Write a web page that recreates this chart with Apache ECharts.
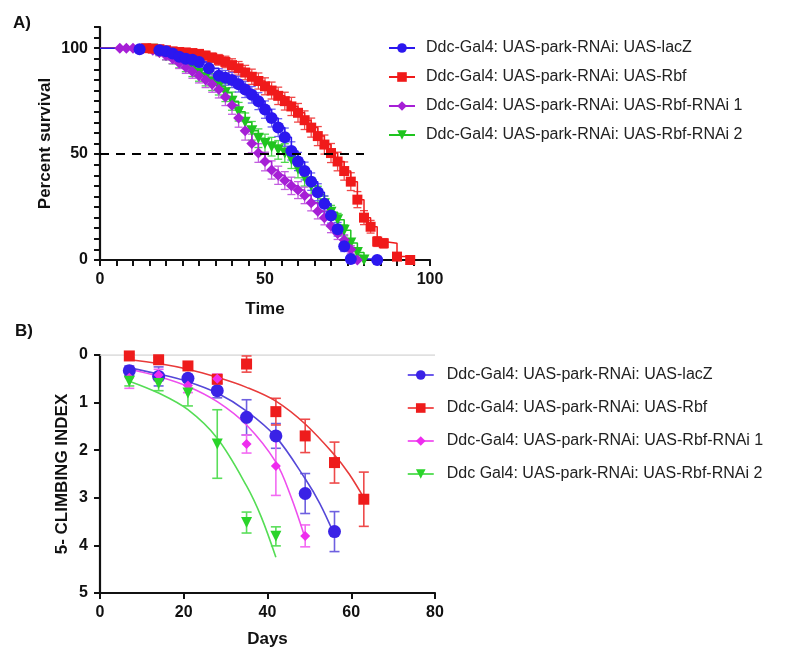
<!DOCTYPE html>
<html>
<head>
<meta charset="utf-8">
<script src="https://cdn.jsdelivr.net/npm/echarts@6/dist/echarts.min.js"></script>
<style>
html,body{margin:0;padding:0;background:#fff;}
#chart{width:800px;height:655px;}
</style>
</head>
<body>
<div id="chart"></div>
<script>
// ---------- Panel A: survival ----------
const seriesNamesA = [
  'Ddc-Gal4: UAS-park-RNAi: UAS-lacZ',
  'Ddc-Gal4: UAS-park-RNAi: UAS-Rbf',
  'Ddc-Gal4: UAS-park-RNAi: UAS-Rbf-RNAi 1',
  'Ddc-Gal4: UAS-park-RNAi: UAS-Rbf-RNAi 2'
];
const survTimeBlue = [0, 12, 18, 20, 22, 24, 26, 28, 30, 33, 36, 38, 40, 42, 44, 46, 48, 50, 52, 54, 56, 58, 60, 62, 64, 66, 68, 70, 72, 74, 76, 84];
const survBlue     = [100, 99.5, 99, 98.5, 97.5, 96, 95, 94.5, 93.5, 90.5, 87, 86, 85, 83, 80.5, 78, 75, 71, 67, 62.5, 58, 51.5, 46.5, 42, 37, 32, 26.5, 21, 14.5, 6.5, 0.5, 0];
const errBlue      = [0, 0.5, 1, 1.2, 1.5, 2, 2.2, 2.4, 2.6, 3, 3.3, 3.5, 3.6, 3.7, 3.8, 3.9, 4, 4.1, 4.2, 4.2, 4.3, 4.3, 4.3, 4.2, 4.1, 4, 3.8, 3.6, 3.2, 2.5, 0, 0];

const survTimeRed = [0, 14, 16, 18, 20, 22, 24, 26, 28, 30, 32, 34, 36, 38, 40, 42, 44, 46, 48, 50, 52, 54, 56, 58, 60, 62, 64, 66, 68, 70, 72, 74, 76, 78, 80, 82, 84, 86, 90, 94];
const survRed     = [100, 100, 99.8, 99.5, 99, 98.5, 98.2, 98, 97.7, 97.3, 96.5, 95.5, 94.5, 93.5, 92, 90.5, 88.5, 86.5, 84.5, 82, 80, 77.5, 75, 72.5, 69.5, 66, 62.5, 58.5, 54.5, 50.5, 46.5, 42, 37, 28.5, 20, 15.7, 8.7, 7.9, 1.6, 0];
const errRed      = [0, 0, 0.5, 0.8, 1, 1.2, 1.4, 1.5, 1.6, 1.8, 2, 2.2, 2.5, 2.7, 3, 3.2, 3.4, 3.6, 3.8, 4, 4, 4.1, 4.2, 4.3, 4.4, 4.4, 4.5, 4.5, 4.5, 4.5, 4.4, 4.3, 4.2, 3.8, 3.3, 3, 2.3, 2.2, 1.2, 0];

const survTimePurple = [0, 6, 8, 10, 16, 18, 20, 22, 24, 26, 28, 30, 32, 34, 36, 38, 40, 42, 44, 46, 48, 50, 52, 54, 56, 58, 60, 62, 64, 66, 68, 70, 72, 74, 76, 78];
const survPurple     = [100, 100, 100, 100, 99, 98, 96.5, 95, 93, 91, 89, 87, 85, 83, 80.5, 77, 73, 67, 61, 55, 50.5, 46.5, 42.5, 40, 37.5, 35, 33, 30.5, 27, 23, 20, 16, 12.5, 9.5, 5, 0];
const errPurple      = [0, 0, 0, 0, 1, 1.5, 2, 2.3, 2.6, 2.9, 3.2, 3.4, 3.6, 3.8, 4, 4.1, 4.2, 4.3, 4.4, 4.4, 4.4, 4.4, 4.3, 4.3, 4.2, 4.1, 4, 3.9, 3.8, 3.6, 3.4, 3.1, 2.8, 2.4, 1.8, 0];

const survTimeGreen = [0, 16, 18, 20, 22, 24, 26, 28, 30, 32, 34, 36, 38, 40, 42, 44, 46, 48, 50, 52, 54, 56, 58, 60, 62, 64, 66, 68, 70, 72, 74, 76, 78, 80];
const survGreen     = [100, 99.5, 98, 96.5, 95, 93.5, 92, 90, 88, 86, 84, 82, 79, 75, 70, 65, 61, 57.5, 55, 53.5, 52, 50.5, 47.5, 43, 39, 35, 31, 26.5, 22.5, 19, 14, 8, 3.5, 0];
const errGreen      = [0, 0.8, 1.5, 2, 2.4, 2.8, 3.1, 3.4, 3.6, 3.8, 4, 4.1, 4.2, 4.3, 4.4, 4.4, 4.4, 4.4, 4.4, 4.4, 4.4, 4.4, 4.3, 4.2, 4.1, 4, 3.8, 3.6, 3.3, 3, 2.6, 2, 1.2, 0];

const medianLineX = [0, 80];
const medianLineY = [50, 50];

const xTickLabelsA = [0, 50, 100];
const yTickLabelsA = [0, 50, 100];

// ---------- Panel B: climbing ----------
const seriesNamesB = [
  'Ddc-Gal4: UAS-park-RNAi: UAS-lacZ\u200B',
  'Ddc-Gal4: UAS-park-RNAi: UAS-Rbf\u200B',
  'Ddc-Gal4: UAS-park-RNAi: UAS-Rbf-RNAi 1\u200B',
  'Ddc Gal4: UAS-park-RNAi: UAS-Rbf-RNAi 2'
];
const daysBlue = [7, 14, 21, 28, 35, 42, 49, 56];
const climbBlue = [0.33, 0.45, 0.49, 0.75, 1.31, 1.7, 2.91, 3.71];
const climbErrBlue = [0.1, 0.2, 0.08, 0.15, 0.37, 0.26, 0.42, 0.42];
const daysRed = [7, 14, 21, 28, 35, 42, 49, 56, 63];
const climbRed = [0.02, 0.1, 0.23, 0.51, 0.19, 1.19, 1.7, 2.26, 3.03];
const climbErrRed = [0.04, 0.05, 0.06, 0.07, 0.17, 0.28, 0.35, 0.43, 0.57];
const daysMagenta = [7, 14, 21, 28, 35, 42, 49];
const climbMagenta = [0.48, 0.42, 0.64, 0.5, 1.87, 2.33, 3.8];
const climbErrMagenta = [0.22, 0.12, 0.15, 0.1, 0.19, 0.62, 0.23];
const daysGreen = [7, 14, 21, 28, 35, 42];
const climbGreen = [0.55, 0.6, 0.8, 1.87, 3.52, 3.81];
const climbErrGreen = [0.1, 0.15, 0.27, 0.72, 0.22, 0.2];

// fitted curves
const fitDaysBlue = [7, 14, 21, 28, 35, 42, 49, 52.5, 56];
const fitBlue     = [0.27, 0.4, 0.56, 0.8, 1.18, 1.72, 2.6, 3.12, 3.78];
const fitDaysRed  = [7, 14, 21, 28, 35, 42, 49, 56, 59.5, 63];
const fitRed      = [0.1, 0.18, 0.3, 0.47, 0.68, 0.97, 1.45, 2.1, 2.5, 3.0];
const fitDaysMagenta = [7, 14, 21, 28, 35, 42, 45.5, 49];
const fitMagenta     = [0.3, 0.45, 0.66, 0.98, 1.47, 2.25, 2.95, 3.85];
const fitDaysGreen = [7, 14, 21, 28, 35, 38.5, 42];
const fitGreen     = [0.55, 0.8, 1.15, 1.75, 2.75, 3.4, 4.25];

const xTickLabelsB = [0, 20, 40, 60, 80];
const yTickLabelsB = [0, 1, 2, 3, 4, 5];

// ---------- build ----------
const FONT = "'Liberation Sans', Arial, sans-serif";
const zip = (xs, ys) => xs.map((x, i) => [x, ys[i]]);
const zip3 = (xs, ys, es) => xs.map((x, i) => [x, ys[i], es[i]]);
const TRI_DOWN = 'path://M0,0 L10,0 L5,9 Z';

function errSeries(data, color, xi, yi, capHalf, width) {
  return {
    type: 'custom', xAxisIndex: xi, yAxisIndex: yi, silent: true, z: 2,
    data: data, encode: {x: 0, y: 1},
    renderItem: function (params, api) {
      const x = api.value(0), y = api.value(1), e = api.value(2);
      if (!e) return null;
      const a = api.coord([x, y + e]);
      const b = api.coord([x, y - e]);
      const st = {stroke: color, lineWidth: width, fill: null};
      return {type: 'group', children: [
        {type: 'line', shape: {x1: a[0], y1: a[1], x2: b[0], y2: b[1]}, style: st},
        {type: 'line', shape: {x1: a[0] - capHalf, y1: a[1], x2: a[0] + capHalf, y2: a[1]}, style: st},
        {type: 'line', shape: {x1: b[0] - capHalf, y1: b[1], x2: b[0] + capHalf, y2: b[1]}, style: st}
      ]};
    }
  };
}

function survSeries(name, xs, ys, color, symbol, size) {
  const data = zip(xs, ys).map((p, i) => i === 0 ? {value: p, symbol: 'none'} : p);
  return {
    name: name, type: 'line', xAxisIndex: 0, yAxisIndex: 0, step: 'end',
    data: data, symbol: symbol, symbolSize: size, z: 3,
    itemStyle: {color: color}, lineStyle: {color: color, width: 1.5}
  };
}

function fitSeries(xs, ys, color) {
  return {type: 'line', xAxisIndex: 1, yAxisIndex: 1, data: zip(xs, ys), smooth: 0.35,
    symbol: 'none', silent: true, z: 3, lineStyle: {color: color, width: 1.6}};
}

function pointSeries(name, xs, ys, color, symbol, size) {
  return {name: name, type: 'line', xAxisIndex: 1, yAxisIndex: 1, data: zip(xs, ys),
    symbol: symbol, symbolSize: size, z: 5, itemStyle: {color: color},
    lineStyle: {width: 0, color: color}};
}

const cA = {blue: '#2b17ef', red: '#f01a1a', purple: '#a61fd6', green: '#1fc41f'};
const eA = {blue: '#6b5ff0', red: '#f04848', purple: '#c35ee0', green: '#4fd84f'};
const cB = {blue: '#3a22e6', red: '#ee1c1c', magenta: '#ee2cee', green: '#2ad42a'};
const eB = {blue: '#6e60e0', red: '#ee4a4a', magenta: '#f36af3', green: '#5ade5a'};
const fB = {blue: '#5548d8', red: '#e83a3a', magenta: '#ee4eee', green: '#55dd55'};

const axisLineStyle = {color: '#111', width: 2.2};
const labelStyle = {fontSize: 16, fontWeight: 'bold', fontFamily: FONT, color: '#111'};
const nameStyle = {fontSize: 17, fontWeight: 'bold', fontFamily: FONT, color: '#111'};

const option = {
  animation: false,
  backgroundColor: '#fff',
  title: [
    {text: 'A)', left: 8, top: 10, textStyle: {fontSize: 17, fontWeight: 'bold', fontFamily: FONT, color: '#111'}},
    {text: 'B)', left: 10, top: 318, textStyle: {fontSize: 17, fontWeight: 'bold', fontFamily: FONT, color: '#111'}}
  ],
  grid: [
    {left: 100, top: 27, width: 330, height: 233, containLabel: false},
    {left: 100, top: 355, width: 335, height: 238, containLabel: false}
  ],
  legend: [
    {
      data: seriesNamesA, orient: 'vertical', left: 383, top: 35,
      itemWidth: 26, itemHeight: 12, itemGap: 13,
      textStyle: {fontSize: 16, fontFamily: FONT, color: '#222', padding: [0, 0, 0, 6]},
      selectedMode: false
    },
    {
      data: seriesNamesB, orient: 'vertical', left: 402, top: 362,
      itemWidth: 26, itemHeight: 12, itemGap: 17,
      lineStyle: {width: 1.5},
      textStyle: {fontSize: 16, fontFamily: FONT, color: '#222', padding: [0, 0, 0, 8]},
      selectedMode: false
    }
  ],
  xAxis: [
    {
      gridIndex: 0, type: 'value', min: 0, max: 100, interval: 5,
      axisLine: {onZero: false, lineStyle: axisLineStyle},
      axisTick: {show: true, length: 6, lineStyle: {color: '#111', width: 2}},
      splitLine: {show: false},
      axisLabel: Object.assign({margin: 12, formatter: v => xTickLabelsA.includes(v) ? String(v) : ''}, labelStyle),
      name: 'Time', nameLocation: 'middle', nameGap: 41, nameTextStyle: nameStyle
    },
    {
      gridIndex: 1, type: 'value', min: 0, max: 80, interval: 20,
      axisLine: {onZero: false, lineStyle: axisLineStyle},
      axisTick: {show: true, length: 6, lineStyle: {color: '#111', width: 2}},
      splitLine: {show: false},
      axisLabel: Object.assign({margin: 12, formatter: v => xTickLabelsB.includes(v) ? String(v) : ''}, labelStyle),
      name: 'Days', nameLocation: 'middle', nameGap: 38, nameTextStyle: nameStyle
    }
  ],
  yAxis: [
    {
      gridIndex: 0, type: 'value', min: 0, max: 110, interval: 5,
      axisLine: {show: true, onZero: false, lineStyle: axisLineStyle},
      axisTick: {show: true, length: 6, lineStyle: {color: '#111', width: 2}},
      splitLine: {show: false},
      axisLabel: Object.assign({margin: 12, formatter: v => yTickLabelsA.includes(v) ? String(v) : ''}, labelStyle),
      name: 'Percent survival', nameLocation: 'middle', nameGap: 46, nameTextStyle: nameStyle
    },
    {
      gridIndex: 1, type: 'value', min: 0, max: 5, interval: 1, inverse: true,
      axisLine: {show: true, onZero: false, lineStyle: axisLineStyle},
      axisTick: {show: true, length: 6, lineStyle: {color: '#111', width: 2}},
      splitLine: {show: false},
      axisLabel: Object.assign({margin: 12, formatter: v => yTickLabelsB.includes(v) ? String(v) : ''}, labelStyle),
      name: '5- CLIMBING INDEX', nameLocation: 'middle', nameGap: 29, nameTextStyle: nameStyle
    }
  ],
  series: [
    // Panel A error bars
    errSeries(zip3(survTimeGreen, survGreen, errGreen), eA.green, 0, 0, 4, 1.3),
    errSeries(zip3(survTimePurple, survPurple, errPurple), eA.purple, 0, 0, 4, 1.3),
    errSeries(zip3(survTimeRed, survRed, errRed), eA.red, 0, 0, 4, 1.3),
    errSeries(zip3(survTimeBlue, survBlue, errBlue), eA.blue, 0, 0, 4, 1.3),
    // Panel A curves
    survSeries(seriesNamesA[3], survTimeGreen, survGreen, cA.green, TRI_DOWN, 11),
    survSeries(seriesNamesA[2], survTimePurple, survPurple, cA.purple, 'diamond', 11),
    survSeries(seriesNamesA[1], survTimeRed, survRed, cA.red, 'rect', 10),
    survSeries(seriesNamesA[0], survTimeBlue, survBlue, cA.blue, 'circle', 12),
    // median dashed line
    {
      type: 'line', xAxisIndex: 0, yAxisIndex: 0, data: zip(medianLineX, medianLineY),
      symbol: 'none', silent: true, z: 4,
      lineStyle: {color: '#000', width: 2, type: [9, 7]}
    },
    // Panel B top grey line
    {
      type: 'line', xAxisIndex: 1, yAxisIndex: 1, data: [[0, 0], [80, 0]],
      symbol: 'none', silent: true, z: 1,
      lineStyle: {color: '#d6d6d6', width: 1.5}
    },
    // Panel B fits
    fitSeries(fitDaysBlue, fitBlue, fB.blue),
    fitSeries(fitDaysRed, fitRed, fB.red),
    fitSeries(fitDaysMagenta, fitMagenta, fB.magenta),
    fitSeries(fitDaysGreen, fitGreen, fB.green),
    // Panel B error bars
    errSeries(zip3(daysBlue, climbBlue, climbErrBlue), eB.blue, 1, 1, 5, 1.6),
    errSeries(zip3(daysRed, climbRed, climbErrRed), eB.red, 1, 1, 5, 1.6),
    errSeries(zip3(daysMagenta, climbMagenta, climbErrMagenta), eB.magenta, 1, 1, 5, 1.6),
    errSeries(zip3(daysGreen, climbGreen, climbErrGreen), eB.green, 1, 1, 5, 1.6),
    // Panel B points
    pointSeries(seriesNamesB[0], daysBlue, climbBlue, cB.blue, 'circle', 13),
    pointSeries(seriesNamesB[1], daysRed, climbRed, cB.red, 'rect', 11),
    pointSeries(seriesNamesB[2], daysMagenta, climbMagenta, cB.magenta, 'diamond', 10),
    pointSeries(seriesNamesB[3], daysGreen, climbGreen, cB.green, TRI_DOWN, 11)
  ]
};

const chart = echarts.init(document.getElementById('chart'), null, {renderer: 'canvas'});
chart.setOption(option);
</script>
</body>
</html>
